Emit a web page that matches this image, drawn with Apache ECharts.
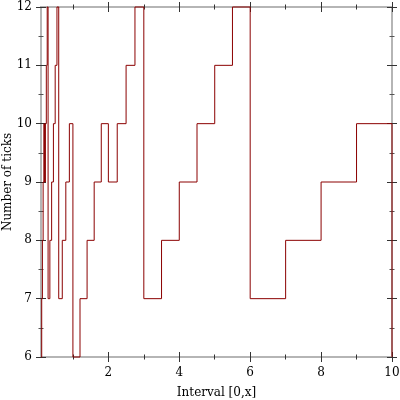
<!DOCTYPE html>
<html>
<head>
<meta charset="utf-8">
<script src="https://cdn.jsdelivr.net/npm/echarts@6/dist/echarts.min.js"></script>
<style>
  html, body { margin: 0; padding: 0; background: #fff; }
  #mainPlot { width: 400px; height: 400px; }
</style>
</head>
<body>
<div id="mainPlot"></div>
<script>
// breakpoints along the interval and the tick count that holds from each one
const intervalX = [
  0.1, 0.12, 0.14, 0.16, 0.18, 0.2, 0.225, 0.25, 0.275, 0.3, 0.35, 0.4, 0.45, 0.5, 0.55, 0.6, 0.7, 0.8, 0.9,
  1, 1.2, 1.4, 1.6, 1.8, 2, 2.25, 2.5, 2.75, 3, 3.5, 4, 4.5, 5, 5.5, 6, 7, 8, 9,
  10
];
const tickCount = [
  6, 7, 8, 9, 10, 9, 10, 11, 12, 7, 8, 9, 10, 11, 12, 7, 8, 9, 10,
  6, 7, 8, 9, 10, 9, 10, 11, 12, 7, 8, 9, 10, 11, 12, 7, 8, 9, 10,
  6
];
const xMajorTicks = [2, 4, 6, 8, 10];
const xMinorTicks = [1, 3, 5, 7, 9];

const font = "DejaVu Serif";
const axisGray = "#b5b5b5";
const tickColor = "#333";

function xAxisFor(position, values, len, inside, withLabels) {
  return {
    type: "value",
    position: position,
    min: 0.1,
    max: 10,
    name: withLabels ? "Interval [0,x]" : "",
    nameLocation: "middle",
    nameGap: 30,
    nameMoveOverlap: false,
    nameTextStyle: { fontFamily: font, fontSize: 12, color: "#000" },
    axisLine: { show: true, lineStyle: { color: axisGray, width: 2 } },
    axisTick: {
      show: true, inside: inside, length: len, customValues: values,
      lineStyle: { color: tickColor, width: 1 }
    },
    axisLabel: {
      show: withLabels, customValues: xMajorTicks, margin: 10,
      fontFamily: font, fontSize: 12, color: "#000"
    },
    splitLine: { show: false }
  };
}

function yAxisFor(position, inside, withLabels) {
  return {
    type: "value",
    position: position,
    min: 6,
    max: 12,
    interval: 1,
    name: withLabels ? "Number of ticks" : "",
    nameLocation: "middle",
    nameGap: 27,
    nameMoveOverlap: false,
    nameTextStyle: { fontFamily: font, fontSize: 12, color: "#000" },
    axisLine: { show: true, lineStyle: { color: axisGray, width: 2 } },
    axisTick: { show: true, inside: inside, length: 5, lineStyle: { color: tickColor, width: 1 } },
    minorTick: { show: true, splitNumber: 2, length: 2.5, lineStyle: { color: "#555", width: 1 } },
    axisLabel: { show: withLabels, margin: 9, fontFamily: font, fontSize: 12, color: "#000" },
    splitLine: { show: false },
    minorSplitLine: { show: false }
  };
}

const xAxes = [];
["bottom", "top"].forEach((pos, i) => {
  [false, true].forEach((inside) => {
    xAxes.push(xAxisFor(pos, xMajorTicks, 5, inside, i === 0 && !inside));
    xAxes.push(xAxisFor(pos, xMinorTicks, 2.5, inside, false));
  });
});
const yAxes = [];
["left", "right"].forEach((pos, i) => {
  [false, true].forEach((inside) => {
    yAxes.push(yAxisFor(pos, inside, i === 0 && !inside));
  });
});

// one item per step: [x, count, nextX, nextCount]
const stepData = [];
for (let i = 0; i < intervalX.length - 1; i++) {
  stepData.push([intervalX[i], tickCount[i], intervalX[i + 1], tickCount[i + 1]]);
}

const chart = echarts.init(document.getElementById("mainPlot"));
chart.setOption({
  animation: false,
  grid: { left: 41, right: 8, top: 7, bottom: 43, outerBoundsMode: "none", containLabel: false },
  xAxis: xAxes,
  yAxis: yAxes,
  series: [
    {
      type: "custom",
      xAxisIndex: 0,
      yAxisIndex: 0,
      encode: { x: [0, 2], y: [1, 3] },
      data: stepData,
      renderItem: (params, api) => {
        const a = api.coord([api.value(0), api.value(1)]);
        const b = api.coord([api.value(2), api.value(1)]);
        const c = api.coord([api.value(2), api.value(3)]);
        return {
          type: "polyline",
          shape: { points: [a, b, c] },
          style: { stroke: "#8b0000", lineWidth: 1, fill: null }
        };
      }
    }
  ]
});
</script>
</body>
</html>
